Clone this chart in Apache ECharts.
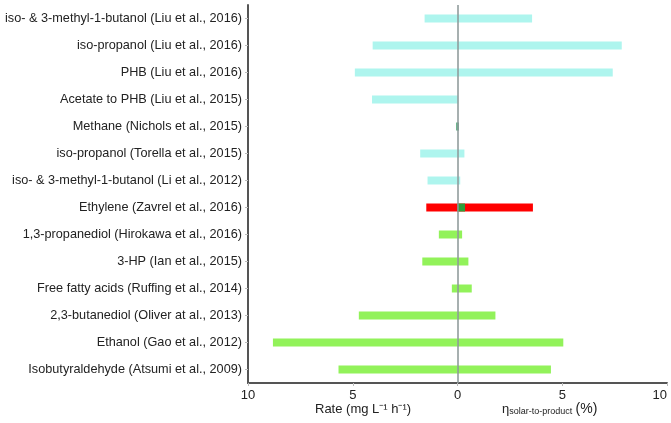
<!DOCTYPE html>
<html><head><meta charset="utf-8">
<script src="https://cdn.jsdelivr.net/npm/echarts@6/dist/echarts.min.js"></script>
<style>html,body{margin:0;padding:0;background:#fff}#c{width:671px;height:423px}</style>
</head><body><div id="c"></div>
<script>
const categories = [
  "iso- & 3-methyl-1-butanol (Liu et al., 2016)",
  "iso-propanol (Liu et al., 2016)",
  "PHB (Liu et al., 2016)",
  "Acetate to PHB (Liu et al., 2015)",
  "Methane (Nichols et al., 2015)",
  "iso-propanol (Torella et al., 2015)",
  "iso- & 3-methyl-1-butanol (Li et al., 2012)",
  "Ethylene (Zavrel et al., 2016)",
  "1,3-propanediol (Hirokawa et al., 2016)",
  "3-HP (Ian et al., 2015)",
  "Free fatty acids (Ruffing et al., 2014)",
  "2,3-butanediol (Oliver at al., 2013)",
  "Ethanol (Gao et al., 2012)",
  "Isobutyraldehyde (Atsumi et al., 2009)"
];
const rates = [1.57, 4.05, 4.9, 4.08, 0.06, 1.78, 1.43, 1.49, 0.89, 1.68, 0.27, 4.71, 8.81, 5.68];
const efficiencies = [3.56, 7.84, 7.41, 0.03, 0.06, 0.33, 0.13, 3.6, 0.22, 0.52, 0.68, 1.81, 5.05, 4.46];
const groups = ["cyan","cyan","cyan","cyan","mark","cyan","cyan","red","green","green","green","green","green","green"];
const ethyleneInset = [null,null,null,null,null,null,null,0.36,null,null,null,null,null,null];
const xTicks = [-10, -5, 0, 5, 10];

const palette = {cyan: "#aef5ee", red: "#ff0000", green: "#92f25a", mark: "#3f9e6a"};
const font = "'Liberation Sans', Arial, sans-serif";

const chart = echarts.init(document.getElementById('c'), null, {renderer: 'canvas'});
chart.setOption({
  animation: false,
  grid: {left: 248, top: 5, width: 419, height: 378, containLabel: false, outerBoundsMode: 'none'},
  xAxis: {
    type: 'value', min: xTicks[0], max: xTicks[xTicks.length-1], interval: 5,
    axisLine: {show: true, onZero: false, lineStyle: {color: '#555', width: 2}},
    axisTick: {show: true, length: 3, lineStyle: {color: '#bbb'}},
    axisLabel: {color: '#222', fontSize: 13, fontFamily: font, margin: 6,
      alignMaxLabel: 'right', formatter: v => String(Math.abs(v))},
    splitLine: {show: false}
  },
  yAxis: {
    type: 'category', data: categories, inverse: true,
    axisLine: {show: true, onZero: false, lineStyle: {color: '#555', width: 2}},
    axisTick: {show: true, length: 3, alignWithLabel: true, lineStyle: {color: '#bbb'}},
    axisLabel: {color: '#222', fontSize: 12.7, fontFamily: font, margin: 6}
  },
  series: [
    {
      type: 'bar', stack: 's', barWidth: 8, silent: true,
      data: rates.map((v, i) => ({value: -v, itemStyle: {color: palette[groups[i]]}}))
    },
    {
      type: 'bar', stack: 's', barWidth: 8, silent: true,
      data: efficiencies.map((v, i) => ({value: v, itemStyle: {color: palette[groups[i]]}}))
    },
    {
      type: 'bar', barWidth: 8, barGap: '-100%', silent: true, z: 3,
      itemStyle: {color: '#2e9e3a'},
      data: ethyleneInset,
      markLine: {
        silent: true, symbol: 'none', label: {show: false},
        lineStyle: {color: '#8a9696', width: 1.5, type: 'solid'},
        data: [{xAxis: 0}]
      }
    }
  ],
  graphic: [
    {type: 'text', left: 315, top: 403, silent: true,
      style: {text: 'Rate (mg L⁻¹ h⁻¹)', fill: '#222', font: '13px ' + font}},
    {type: 'text', left: 502, top: 402, silent: true,
      style: {
        text: '{e|η}{s|solar-to-product} {p|(%)}',
        rich: {
          e: {fontSize: 13, fontFamily: font, fill: '#222'},
          s: {fontSize: 9, fontFamily: font, fill: '#222', padding: [5,0,0,0]},
          p: {fontSize: 14, fontFamily: font, fill: '#222'}
        }
      }}
  ]
});
</script></body></html>
